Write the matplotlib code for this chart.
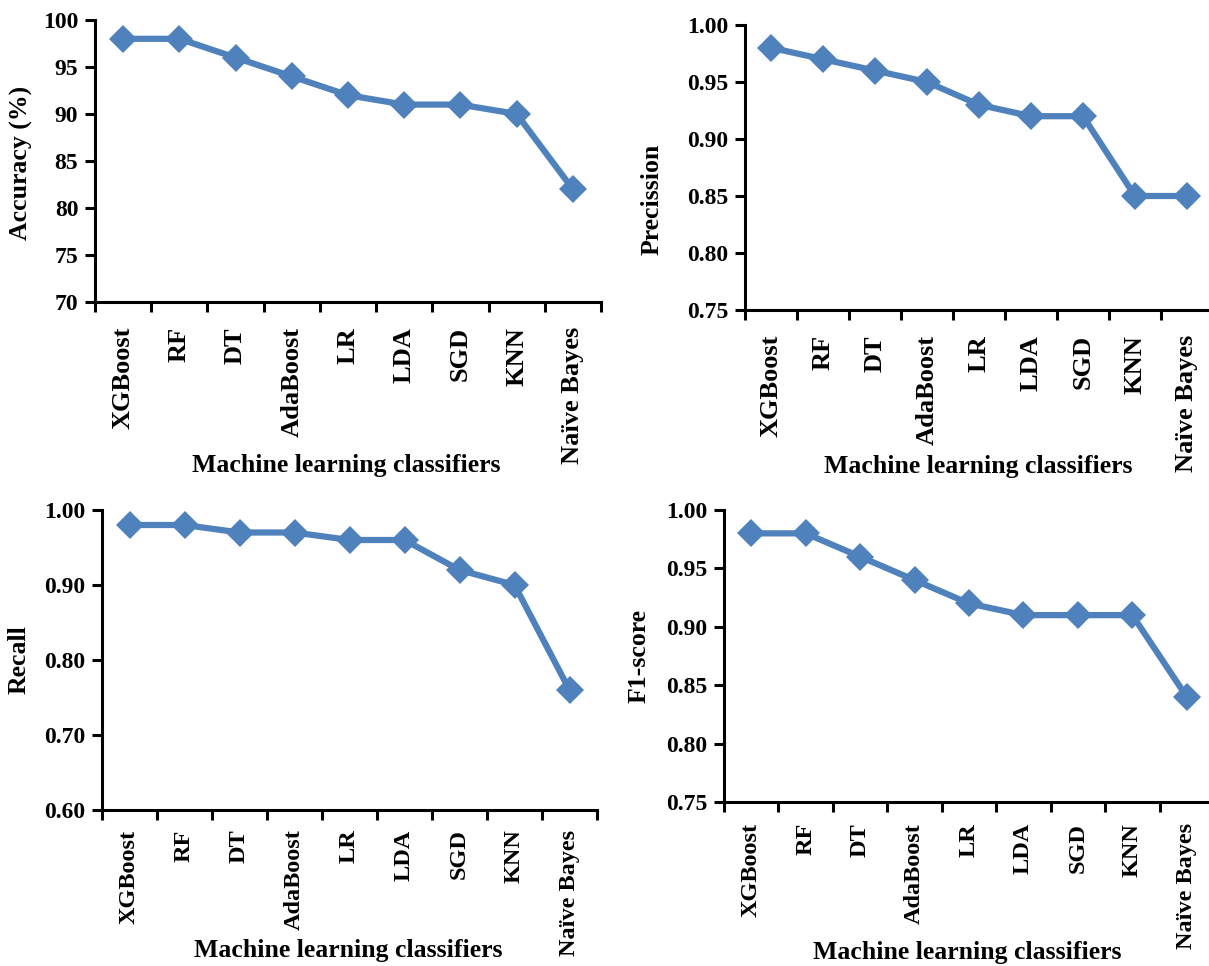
import matplotlib
matplotlib.use("Agg")
import matplotlib.pyplot as plt
import numpy as np
from matplotlib.ticker import FixedLocator, FormatStrFormatter

plt.rcParams['font.family'] = ['Liberation Serif', 'DejaVu Serif']
plt.rcParams['font.weight'] = 'bold'

classifiers = ["XGBoost", "RF", "DT", "AdaBoost", "LR", "LDA", "SGD", "KNN", "Naïve Bayes"]
accuracy = [98, 98, 96, 94, 92, 91, 91, 90, 82]
precision = [0.98, 0.97, 0.96, 0.95, 0.93, 0.92, 0.92, 0.85, 0.85]
recall = [0.98, 0.98, 0.97, 0.97, 0.96, 0.96, 0.92, 0.90, 0.76]
f1_score = [0.98, 0.98, 0.96, 0.94, 0.92, 0.91, 0.91, 0.91, 0.84]

y_labels = ["Accuracy (%)", "Precission", "Recall", "F1-score"]
x_label = "Machine learning classifiers"

W, H = 1209, 966
DPI = 100
fig = plt.figure(figsize=(W / DPI, H / DPI), dpi=DPI)
fig.patch.set_facecolor("white")

LINE_COLOR = "#4F81BD"


def px_axes(x0, x1, ytop, ybot):
    return fig.add_axes([x0 / W, 1 - ybot / H, (x1 - x0) / W, (ybot - ytop) / H])


panels = [
    # values, ylim, step, fmt, axes px box, label pad, cat fontsize, ylabel pos, xlabel pos
    (accuracy, (70, 100), 5, "%d", (95, 601, 20, 302), 18, 19, (21, 163), (346, 465)),
    (precision, (0.75, 1.00), 0.05, "%.2f", (745, 1213, 25, 310), 18, 19, (652, 199), (978, 467)),
    (recall, (0.60, 1.00), 0.10, "%.2f", (102, 597, 510, 810), 14, 17.5, (19, 660), (348, 950)),
    (f1_score, (0.75, 1.00), 0.05, "%.2f", (724, 1214, 510, 802), 15, 17.5, (639, 656), (967, 952)),
]

x = np.arange(len(classifiers))
for (vals, ylim, step, fmt, box, pad, cfs, ylpos, xlpos), ylab in zip(panels, y_labels):
    ax = px_axes(*box)
    ax.plot(x, vals, color=LINE_COLOR, lw=4.5, marker="D", markersize=14,
            markeredgewidth=0, solid_joinstyle="round", clip_on=False, zorder=3)
    ax.set_xlim(-0.5, len(classifiers) - 0.5)
    ax.set_ylim(*ylim)
    ticks = np.arange(ylim[0], ylim[1] + step / 2, step)
    ax.yaxis.set_major_locator(FixedLocator(ticks))
    ax.yaxis.set_major_formatter(FormatStrFormatter(fmt))
    ax.set_xticks(x)
    ax.set_xticklabels(classifiers, rotation=90, fontsize=cfs, fontweight="bold")
    ax.xaxis.set_minor_locator(FixedLocator(np.arange(-0.5, len(classifiers), 1.0)))
    ax.tick_params(axis="x", which="major", length=0, pad=pad)
    ax.tick_params(axis="x", which="minor", length=7, width=2.2, direction="out")
    ax.tick_params(axis="y", which="major", length=7, width=2.2, direction="out",
                   labelsize=17, pad=5)
    for lbl in ax.get_yticklabels():
        lbl.set_fontweight("bold")
    for side in ["top", "right"]:
        ax.spines[side].set_visible(False)
    for side in ["left", "bottom"]:
        ax.spines[side].set_linewidth(2.2)
        ax.spines[side].set_color("black")
    fig.text(ylpos[0] / W, 1 - ylpos[1] / H, ylab, rotation=90, ha="center", va="center",
             fontsize=18.5, fontweight="bold")
    fig.text(xlpos[0] / W, 1 - xlpos[1] / H, x_label, ha="center", va="center",
             fontsize=18.5, fontweight="bold")

fig.savefig("out.png", dpi=DPI, facecolor="white")
